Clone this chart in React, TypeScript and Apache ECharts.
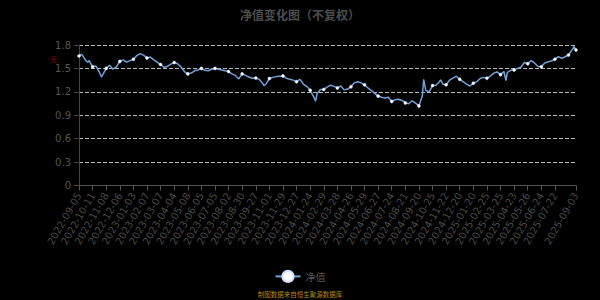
import React, { useEffect, useRef } from 'react';
import * as echarts from 'echarts';

const START_DATE = '2022-09-05';
const END_DATE = '2025-09-03';
const MARKET_HOLIDAYS = [
  '2022-09-12', '2022-10-03', '2022-10-04', '2022-10-05', '2022-10-06', '2022-10-07',
  '2023-01-02', '2023-01-23', '2023-01-24', '2023-01-25', '2023-01-26', '2023-01-27',
  '2023-04-05', '2023-05-01', '2023-05-02', '2023-05-03', '2023-06-22', '2023-06-23',
  '2023-09-29', '2023-10-02', '2023-10-03', '2023-10-04', '2023-10-05', '2023-10-06',
  '2024-01-01', '2024-02-09', '2024-02-12', '2024-02-13', '2024-02-14', '2024-02-15', '2024-02-16',
  '2024-04-04', '2024-04-05', '2024-05-01', '2024-05-02', '2024-05-03', '2024-06-10',
  '2024-09-16', '2024-09-17', '2024-10-01', '2024-10-02', '2024-10-03', '2024-10-04', '2024-10-07',
  '2025-01-01', '2025-01-28', '2025-01-29', '2025-01-30', '2025-01-31', '2025-02-03', '2025-02-04',
  '2025-04-04', '2025-05-01', '2025-05-02', '2025-05-05', '2025-06-02',
];
// quarter / year end NAV dates that fall on non-trading days
const EXTRA_NAV_DATES = ['2022-12-31', '2023-09-30', '2023-12-31', '2024-03-31', '2024-06-30'];

// index of trading day -> NAV value
const sampleIndex = [
  0, 3, 5, 10, 13, 15, 20, 25, 30, 33, 35, 40, 45, 50, 55, 60, 65, 70, 75, 80,
  85, 90, 95, 100, 105, 110, 115, 120, 125, 130, 135, 140, 145, 150, 155, 160, 165, 170, 175, 180,
  185, 190, 195, 200, 205, 210, 215, 220, 225, 230, 235, 240, 245, 250, 255, 260, 265, 270, 272, 275,
  280, 285, 290, 295, 300, 305, 310, 315, 320, 325, 330, 335, 340, 345, 348, 350, 355, 360, 365, 370,
  375, 380, 385, 390, 395, 400, 405, 410, 415, 420, 425, 430, 435, 440, 445, 450, 455, 460, 465, 470,
  475, 480, 485, 490, 495, 500, 505, 507, 510, 515, 520, 525, 530, 532, 535, 540, 545, 550, 555, 560,
  565, 570, 575, 580, 585, 590, 595, 600, 605, 610, 615, 620, 625, 628, 630, 635, 640, 645, 650, 655,
  660, 665, 670, 675, 680, 685, 690, 695, 700, 705, 710, 715, 720, 725, 728, 731,
];
const navValues = [
  1.66, 1.68, 1.67, 1.6, 1.58, 1.6, 1.52, 1.53, 1.45, 1.39, 1.42, 1.5, 1.54, 1.49, 1.52, 1.59, 1.61, 1.58, 1.6, 1.617,
  1.665, 1.69, 1.67, 1.634, 1.645, 1.61, 1.58, 1.55, 1.515, 1.525, 1.555, 1.575, 1.56, 1.52, 1.46, 1.43, 1.44, 1.47, 1.48, 1.5,
  1.475, 1.47, 1.49, 1.5, 1.49, 1.48, 1.47, 1.46, 1.43, 1.41, 1.365, 1.43, 1.41, 1.39, 1.375, 1.378, 1.36, 1.31, 1.28, 1.3,
  1.37, 1.385, 1.395, 1.4, 1.404, 1.375, 1.36, 1.35, 1.33, 1.36, 1.3, 1.27, 1.22, 1.14, 1.08, 1.17, 1.23, 1.23, 1.26, 1.285,
  1.27, 1.25, 1.275, 1.225, 1.235, 1.265, 1.315, 1.328, 1.315, 1.29, 1.25, 1.215, 1.18, 1.145, 1.13, 1.12, 1.13, 1.077, 1.098, 1.105,
  1.09, 1.058, 1.047, 1.085, 1.055, 1.02, 1.15, 1.36, 1.22, 1.2, 1.28, 1.285, 1.33, 1.353, 1.3, 1.29, 1.35, 1.375, 1.4, 1.36,
  1.33, 1.3, 1.275, 1.31, 1.33, 1.37, 1.385, 1.374, 1.4, 1.44, 1.455, 1.42, 1.46, 1.345, 1.45, 1.475, 1.48, 1.5, 1.515, 1.575,
  1.56, 1.6, 1.57, 1.525, 1.52, 1.57, 1.585, 1.595, 1.617, 1.65, 1.63, 1.65, 1.672, 1.735, 1.78, 1.736,
];

const Y_MIN = 0;
const Y_MAX = 1.8;
const Y_INTERVAL = 0.3;

function buildDates(): string[] {
  const out: string[] = [];
  const hol = new Set(MARKET_HOLIDAYS);
  const extra = new Set(EXTRA_NAV_DATES);
  const d = new Date(START_DATE + 'T00:00:00Z');
  const end = new Date(END_DATE + 'T00:00:00Z');
  while (d.getTime() <= end.getTime()) {
    const s = d.toISOString().slice(0, 10);
    const wd = d.getUTCDay();
    if ((wd !== 0 && wd !== 6 && !hol.has(s)) || extra.has(s)) out.push(s);
    d.setUTCDate(d.getUTCDate() + 1);
  }
  return out;
}

export default function App() {
  const ref = useRef<HTMLDivElement>(null);
  useEffect(() => {
    document.body.style.margin = '0';
    document.body.style.background = '#000';
    const chart = echarts.init(ref.current!, null, { renderer: 'svg' });
    const dates = buildDates();
    const data = sampleIndex.map((idx, k) => [idx, navValues[k]]);
    chart.setOption({
      animation: false,
      backgroundColor: '#000',
      title: [
        {
          text: '净值变化图（不复权）',
          left: 'center',
          top: 3,
          textStyle: { color: '#4d4d4d', fontSize: 12, fontWeight: 'bold', fontFamily: 'Noto Sans CJK SC' },
        },
        {
          text: '制图数据来自恒生聚源数据库',
          left: 'center',
          bottom: -2,
          textStyle: { color: '#b5851a', fontSize: 6.5, fontWeight: 'normal', fontFamily: 'Noto Sans CJK SC' },
        },
      ],
      graphic: [
        {
          type: 'text',
          left: 50,
          top: 55,
          style: { text: '元', fill: '#8b0000', fontSize: 7, fontFamily: 'Noto Sans CJK SC' },
        },
      ],
      legend: {
        bottom: 12,
        left: 'center',
        itemWidth: 25,
        itemHeight: 14,
        textStyle: { color: '#555', fontSize: 10, fontFamily: 'Noto Sans CJK SC' },
        data: ['净值'],
      },
      grid: { left: 79, right: 24, top: 45, bottom: 114.5 },
      xAxis: {
        type: 'category',
        data: dates,
        boundaryGap: false,
        axisLine: { lineStyle: { color: '#555' } },
        axisTick: { lineStyle: { color: '#555' } },
        axisLabel: {
          interval: 19,
          showMaxLabel: true,
          rotate: 60,
          color: '#4a4a4a',
          fontSize: 10,
          fontFamily: 'DejaVu Sans',
        },
      },
      yAxis: {
        type: 'value',
        min: Y_MIN,
        max: Y_MAX,
        interval: Y_INTERVAL,
        axisLine: { show: true, lineStyle: { color: '#444' } },
        axisTick: { show: true, lineStyle: { color: '#444' } },
        axisLabel: { color: '#555', fontSize: 10, fontFamily: 'DejaVu Sans' },
        splitLine: { lineStyle: { color: '#bbb', type: 'dashed' } },
      },
      series: [
        {
          name: '净值',
          type: 'line',
          data,
          showSymbol: true,
          showAllSymbol: 'auto',
          symbol: 'circle',
          symbolSize: 3,
          itemStyle: { color: '#fff', borderColor: '#cfe0ff', borderWidth: 0.5 },
          lineStyle: { color: '#74a0d8', width: 1.5 },
        },
      ],
    });
    return () => chart.dispose();
  }, []);
  return <div ref={ref} style={{ width: 600, height: 300 }} />;
}
